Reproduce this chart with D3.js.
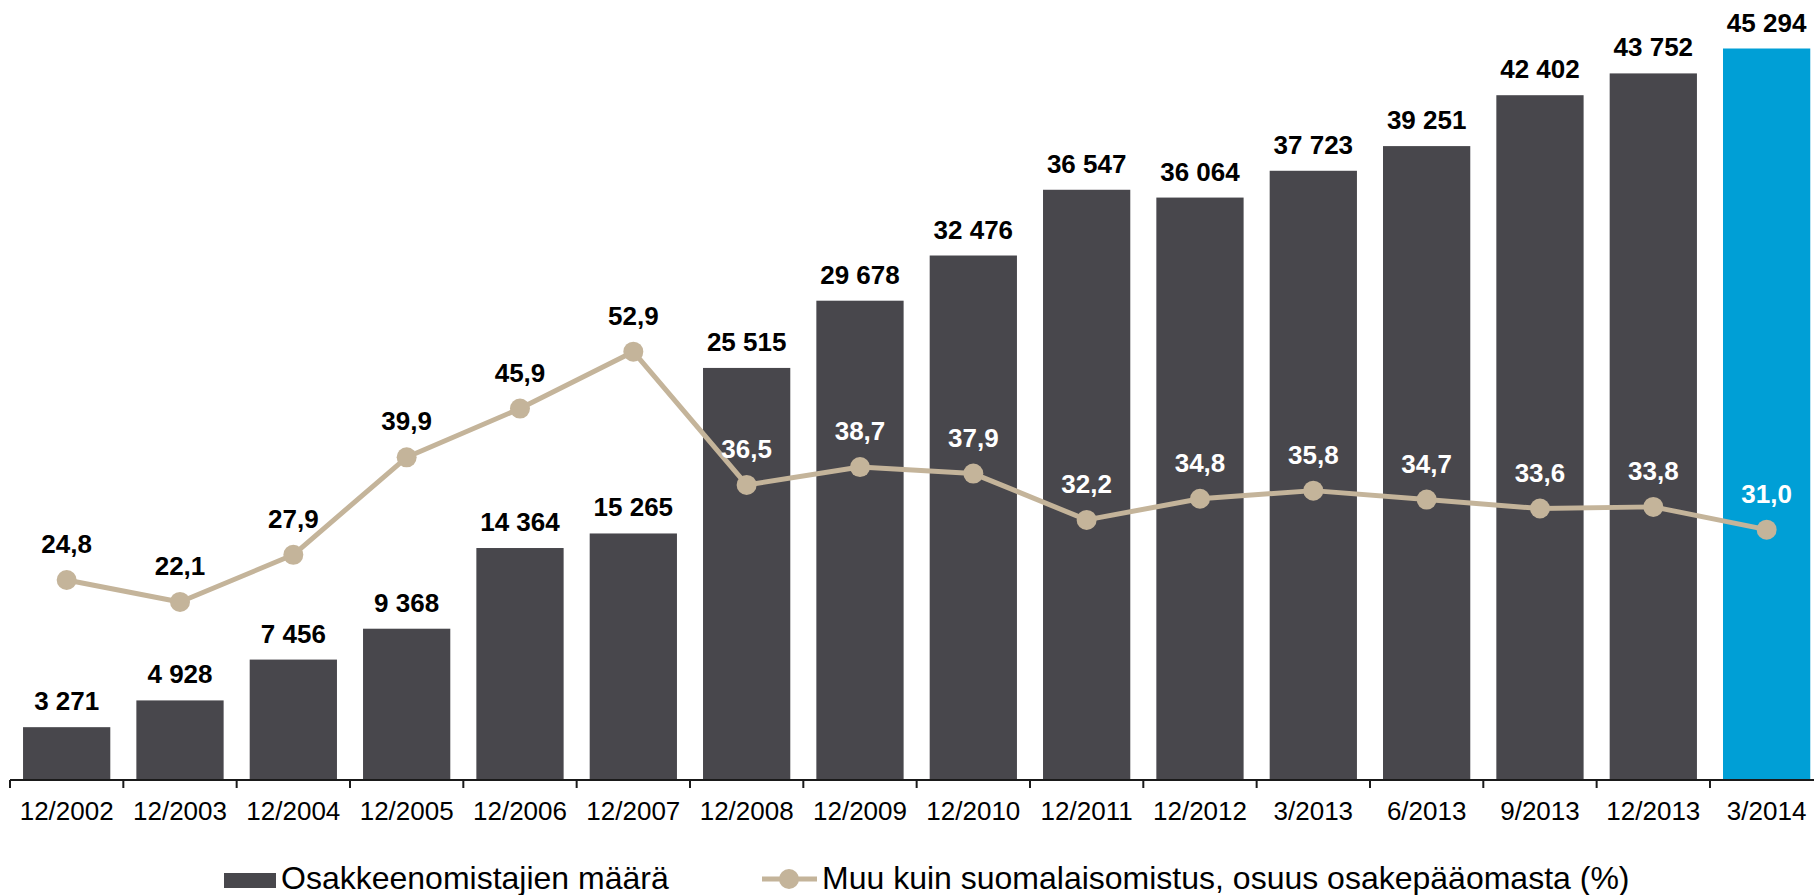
<!DOCTYPE html>
<html>
<head>
<meta charset="utf-8">
<script src="https://cdn.jsdelivr.net/npm/d3@7"></script>
<style>
  html, body { margin: 0; padding: 0; background: #ffffff; overflow: hidden; }
  svg { display: block; font-family: "Liberation Sans", Arial, sans-serif; }
</style>
</head>
<body>
<svg id="chart" width="1814" height="895"></svg>
<script>
const categories = ["12/2002","12/2003","12/2004","12/2005","12/2006","12/2007","12/2008","12/2009","12/2010","12/2011","12/2012","3/2013","6/2013","9/2013","12/2013","3/2014"];
const shareholders = [3271, 4928, 7456, 9368, 14364, 15265, 25515, 29678, 32476, 36547, 36064, 37723, 39251, 42402, 43752, 45294];
const foreignShare = [24.8, 22.1, 27.9, 39.9, 45.9, 52.9, 36.5, 38.7, 37.9, 32.2, 34.8, 35.8, 34.7, 33.6, 33.8, 31.0];
const legendLabels = ["Osakkeenomistajien määrä", "Muu kuin suomalaisomistus, osuus osakepääomasta (%)"];

const barColor = "#48474c";
const highlightColor = "#009fd6";
const lineColor = "#c4b49a";

const svg = d3.select("#chart");
const axisY = 780;
const pad = 0.23;

const x = d3.scaleBand().domain(categories).range([10, 1823.3]).paddingInner(pad).paddingOuter(pad / 2);
const yBar = d3.scaleLinear().domain([0, 50000]).range([axisY, -27.5]);
const yPct = d3.scaleLinear().domain([0, 100]).range([axisY + 1.5, -31]);

const fmtInt = v => d3.format(",")(v).replace(/,/g, " ");
const fmtPct = v => d3.format(".1f")(v).replace(".", ",");

const data = categories.map((c, i) => ({ c, v: shareholders[i], p: foreignShare[i], last: i === categories.length - 1, i }));

// bars
svg.append("g").selectAll("rect").data(data).join("rect")
  .attr("x", d => x(d.c))
  .attr("y", d => yBar(d.v))
  .attr("width", x.bandwidth())
  .attr("height", d => yBar(0) - yBar(d.v))
  .attr("fill", d => d.last ? highlightColor : barColor);

// bar labels
svg.append("g").selectAll("text").data(data).join("text")
  .attr("x", d => x(d.c) + x.bandwidth() / 2)
  .attr("y", d => yBar(d.v) - 17)
  .attr("text-anchor", "middle")
  .attr("font-size", 26)
  .attr("font-weight", "bold")
  .attr("fill", "#000")
  .text(d => fmtInt(d.v));

// x axis
const axis = d3.axisBottom(x).tickSize(0).tickPadding(22);
const gx = svg.append("g").attr("transform", `translate(0,${axisY})`).call(axis);
gx.select(".domain").attr("stroke", "#1a1a1a").attr("stroke-width", 2).attr("d", `M${x.range()[0]},0H1814`);
gx.selectAll(".tick text").attr("font-size", 26).attr("fill", "#000").attr("font-family", "Liberation Sans, Arial, sans-serif");
// boundary ticks
const bounds = d3.range(categories.length).map(i => x.range()[0] + i * x.step());
gx.append("g").selectAll("line").data(bounds).join("line")
  .attr("x1", d => d).attr("x2", d => d)
  .attr("y1", 0).attr("y2", 8)
  .attr("stroke", "#1a1a1a").attr("stroke-width", 2);

// line
const cx = d => x(d.c) + x.bandwidth() / 2;
svg.append("path").datum(data)
  .attr("fill", "none")
  .attr("stroke", lineColor)
  .attr("stroke-width", 5)
  .attr("stroke-linejoin", "round")
  .attr("d", d3.line().x(cx).y(d => yPct(d.p)));

svg.append("g").selectAll("circle").data(data).join("circle")
  .attr("cx", cx)
  .attr("cy", d => yPct(d.p))
  .attr("r", 10)
  .attr("fill", lineColor);

svg.append("g").selectAll("text").data(data).join("text")
  .attr("x", cx)
  .attr("y", d => yPct(d.p) - 27)
  .attr("text-anchor", "middle")
  .attr("font-size", 26)
  .attr("font-weight", "bold")
  .attr("fill", d => d.i < 6 ? "#000" : "#fff")
  .text(d => fmtPct(d.p));

// legend
const lg = svg.append("g");
lg.append("rect").attr("x", 224).attr("y", 873).attr("width", 52).attr("height", 15).attr("fill", barColor);
lg.append("text").attr("x", 281).attr("y", 889).attr("font-size", 32).attr("fill", "#000").text(legendLabels[0]);
lg.append("line").attr("x1", 762).attr("x2", 817).attr("y1", 879).attr("y2", 879).attr("stroke", lineColor).attr("stroke-width", 5);
lg.append("circle").attr("cx", 789).attr("cy", 879).attr("r", 10).attr("fill", lineColor);
lg.append("text").attr("x", 822).attr("y", 889).attr("font-size", 32).attr("fill", "#000").text(legendLabels[1]);
</script>
</body>
</html>
